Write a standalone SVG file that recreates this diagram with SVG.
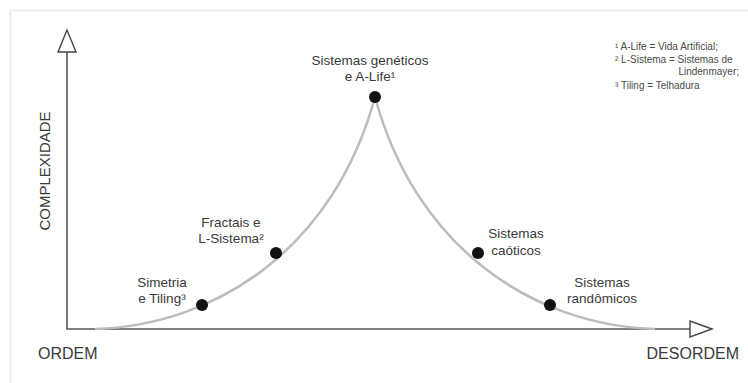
<svg xmlns="http://www.w3.org/2000/svg" width="748" height="383" viewBox="0 0 748 383">
<style>
  .lbl { font-family: "Liberation Sans", Arial, sans-serif; font-size: 13.5px; fill: #3a3a3a; text-anchor: middle; }
  .ax { font-family: "Liberation Sans", Arial, sans-serif; font-size: 16px; fill: #3a3a3a; }
  .note { font-family: "Liberation Sans", Arial, sans-serif; font-size: 10px; fill: #4a4a4a; }
  .dot { fill: #111; }
  .axis { stroke: #555; stroke-width: 1.6; fill: none; }
  .head { stroke: #444; stroke-width: 1.4; fill: #fff; stroke-linejoin: miter; }
  .curve { stroke: #bdbdbd; stroke-width: 2.6; fill: none; }
</style>
<rect width="748" height="383" fill="#fff"/>
<rect x="10.5" y="10.5" width="745" height="380" fill="none" stroke="#e8e8e8" stroke-width="1.5"/>

<g id="axes">
  <line class="axis" x1="67" y1="51" x2="67" y2="329"/>
  <line class="axis" x1="66.2" y1="329" x2="691" y2="329"/>
  <polygon class="head" points="67,30 58,52 76,52"/>
  <polygon class="head" points="712,329 690,321 690,337"/>
  <text class="ax" x="38" y="359">ORDEM</text>
  <text class="ax" x="739" y="359" text-anchor="end">DESORDEM</text>
  <text class="ax" style="font-size:15px" text-anchor="middle" transform="translate(50,171) rotate(-90)">COMPLEXIDADE</text>
</g>

<g id="connectors">
  <path class="curve" d="M 95 329 C 220 325, 335 245, 375 97 C 415 245, 530 325, 655 329"/>
</g>

<g id="node-simetria">
  <circle class="dot" cx="202" cy="305" r="6"/>
  <text class="lbl" x="162" y="287">Simetria</text>
  <text class="lbl" x="162" y="303">e Tiling³</text>
</g>
<g id="node-fractais">
  <circle class="dot" cx="276" cy="253" r="6"/>
  <text class="lbl" x="231" y="227">Fractais e</text>
  <text class="lbl" x="231" y="243">L-Sistema²</text>
</g>
<g id="node-geneticos">
  <circle class="dot" cx="375" cy="97" r="6"/>
  <text class="lbl" x="370" y="65">Sistemas genéticos</text>
  <text class="lbl" x="370" y="81">e A-Life¹</text>
</g>
<g id="node-caoticos">
  <circle class="dot" cx="478" cy="253" r="6"/>
  <text class="lbl" x="516" y="238">Sistemas</text>
  <text class="lbl" x="516" y="255">caóticos</text>
</g>
<g id="node-randomicos">
  <circle class="dot" cx="550" cy="305" r="6"/>
  <text class="lbl" x="602" y="287">Sistemas</text>
  <text class="lbl" x="602" y="303">randômicos</text>
</g>

<g id="footnotes">
  <text class="note" x="615" y="50">¹ A-Life = Vida Artificial;</text>
  <text class="note" x="615" y="63">² L-Sistema = Sistemas de</text>
  <text class="note" x="739" y="75" text-anchor="end">Lindenmayer;</text>
  <text class="note" x="615" y="89">³ Tiling = Telhadura</text>
</g>
</svg>
